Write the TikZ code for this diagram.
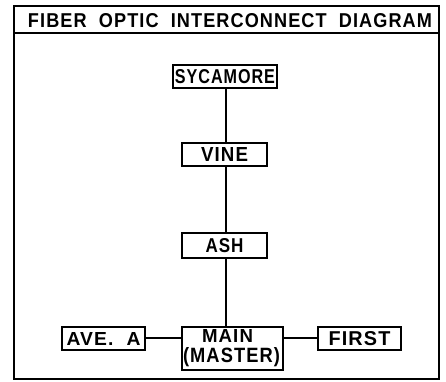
\documentclass[tikz,border=0pt]{standalone}
\usepackage{fontspec}
\setmainfont{Liberation Sans}
\newfontfamily\pltfont[LetterSpace=6.0]{Liberation Sans}
\newcommand\fitlbl[3]{\resizebox{#1pt}{#2pt}{\pltfont\bfseries #3}}
\begin{document}
\begin{tikzpicture}[x=1pt,y=-1pt,line width=2.1pt,
  box/.style={draw,line width=2.1pt,inner sep=0pt,minimum height=23pt},
  lbl/.style={inner sep=0pt},
  link/.style={line width=2.1pt}]
\useasboundingbox (0,0) rectangle (446,381);
% outer frame and title bar
\draw[line width=2.2pt] (14,6) rectangle (439,379);
\draw[line width=2pt] (14,33) -- (439,33);
\node[lbl] (title) at (230,21) {\fitlbl{404}{14}{FIBER\ \ OPTIC\ \ INTERCONNECT\ \ DIAGRAM}};
% boxes
\node[box,minimum width=104pt] (syc) at (225,76.5) {\fitlbl{100}{14}{SYCAMORE}};
\node[box,minimum width=85pt] (vine) at (224.5,154.5) {\fitlbl{47}{14}{VINE}};
\node[box,minimum width=85pt,minimum height=25pt] (ash) at (224.5,245.5) {\fitlbl{38}{14}{ASH}};
\node[box,minimum width=83pt] (ave) at (103.5,338.5) {\fitlbl{74}{13}{AVE.\ \ A}};
\node[box,minimum width=83pt] (first) at (359.5,338.5) {\fitlbl{62}{14}{FIRST}};
\node[box,minimum width=101pt,minimum height=43pt] (main) at (232.5,348.5) {};
\node[lbl] (mainA) at (227.5,335.5) {\fitlbl{51}{13}{MAIN}};
\node[lbl] (mainB) at (231.5,357.5) {\fitlbl{97}{15}{(MASTER)}};
% connectors
\coordinate (spine) at (226,0);
\draw[link] (syc.south -| spine) -- (vine.north -| spine);
\draw[link] (vine.south -| spine) -- (ash.north -| spine);
\draw[link] (ash.south -| spine) -- (main.north -| spine);
\coordinate (hy) at (0,338);
\draw[link] (ave.east |- hy) -- (main.west |- hy);
\draw[link] (main.east |- hy) -- (first.west |- hy);
\end{tikzpicture}
\end{document}
